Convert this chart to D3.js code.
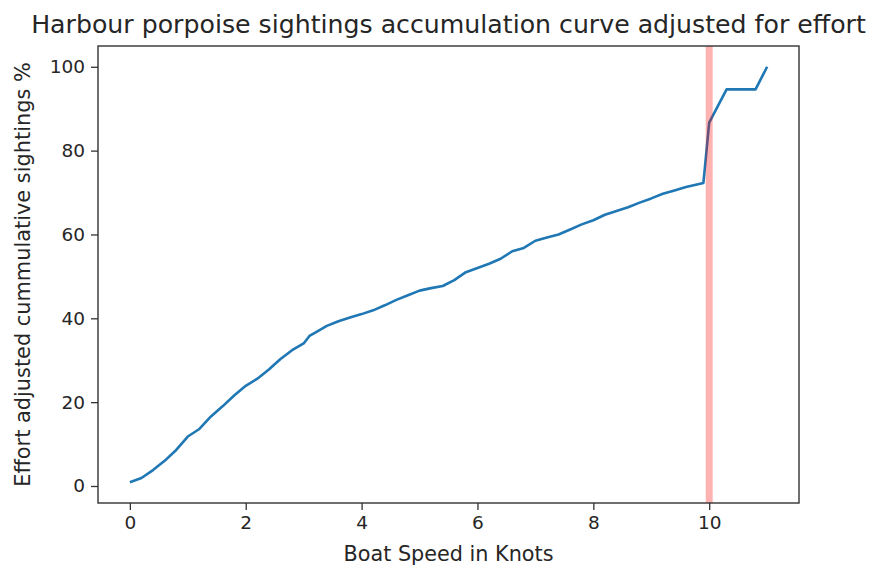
<!DOCTYPE html>
<html>
<head>
<meta charset="utf-8">
<script src="https://cdn.jsdelivr.net/npm/d3@7"></script>
<style>
  body { margin: 0; background: #fff; }
  text { font-family: "DejaVu Sans", sans-serif; fill: #262626; }
</style>
</head>
<body>
<script>
// boat speed (knots) and effort adjusted cumulative sightings (%)
var speeds = [0, 0.2, 0.4, 0.6, 0.8, 1.0, 1.2, 1.4, 1.6, 1.8, 2.0, 2.2, 2.4, 2.6, 2.8, 3.0, 3.1, 3.2, 3.4, 3.6,
  3.8, 4.0, 4.2, 4.4, 4.6, 4.8, 5.0, 5.2, 5.4, 5.6, 5.8, 6.0, 6.2, 6.4, 6.6, 6.8, 7.0, 7.2, 7.4, 7.6,
  7.8, 8.0, 8.2, 8.4, 8.6, 8.8, 9.0, 9.2, 9.4, 9.6, 9.9, 10.0, 10.3, 10.8, 11.0];
var sightings = [0.9, 1.9, 3.8, 6.0, 8.6, 11.8, 13.6, 16.6, 19.0, 21.6, 23.9, 25.6, 27.8, 30.3, 32.4, 34.0, 35.8, 36.6, 38.2, 39.3,
  40.2, 41.0, 41.9, 43.1, 44.4, 45.5, 46.6, 47.2, 47.7, 49.1, 51.0, 52.0, 53.0, 54.2, 56.0, 56.8, 58.5, 59.3, 60.0, 61.2,
  62.4, 63.4, 64.7, 65.6, 66.5, 67.6, 68.6, 69.7, 70.5, 71.3, 72.3, 86.7, 94.6, 94.6, 100];
var xTicks = [0, 2, 4, 6, 8, 10];
var yTicks = [0, 20, 40, 60, 80, 100];
var markSpeed = 10;

var W = 870, H = 567;
var margin = {top: 46, right: 71, bottom: 64, left: 98};
var width = W - margin.left - margin.right,
    height = H - margin.top - margin.bottom;

var svg = d3.select("body").append("svg")
    .attr("width", W)
    .attr("height", H);

var g = svg.append("g")
    .attr("transform", "translate(" + margin.left + "," + margin.top + ")");

// matplotlib style 5% margins
var xmin = d3.min(speeds), xmax = d3.max(speeds);
var ymin = d3.min(sightings), ymax = d3.max(sightings);
var xpad = (xmax - xmin) * 0.05, ypad = (ymax - ymin) * 0.05;

var x = d3.scaleLinear().domain([xmin - xpad, xmax + xpad]).range([0, width]);
var y = d3.scaleLinear().domain([ymin - ypad, ymax + ypad]).range([height, 0]);

var data = speeds.map(function(s, i) { return {x: s, y: sightings[i]}; });

var line = d3.line()
    .x(function(d) { return x(d.x); })
    .y(function(d) { return y(d.y); });

g.append("path")
    .datum(data)
    .attr("fill", "none")
    .attr("stroke", "#1f77b4")
    .attr("stroke-width", 2.6)
    .attr("stroke-linejoin", "round")
    .attr("d", line);

// red marker line at 10 knots
g.append("line")
    .attr("x1", x(markSpeed)).attr("x2", x(markSpeed))
    .attr("y1", 0).attr("y2", height)
    .attr("stroke", "red")
    .attr("stroke-opacity", 0.3)
    .attr("stroke-width", 7);

// axes
var xAxis = g.append("g")
    .attr("transform", "translate(0," + height + ")")
    .call(d3.axisBottom(x).tickValues(xTicks).tickSize(7).tickPadding(6).tickSizeOuter(0));
var yAxis = g.append("g")
    .call(d3.axisLeft(y).tickValues(yTicks).tickSize(7).tickPadding(6).tickSizeOuter(0));

[xAxis, yAxis].forEach(function(a) {
  a.select(".domain").remove();
  a.selectAll("line").attr("stroke", "#333").attr("stroke-width", 1.3);
  a.selectAll("text").style("font-size", "18.5px").attr("fill", "#262626");
});

// frame
g.append("rect")
    .attr("width", width).attr("height", height)
    .attr("fill", "none")
    .attr("stroke", "#333")
    .attr("stroke-width", 1.4);

function fit(t, len) {
  var w = t.node().getComputedTextLength();
  var fs = parseFloat(t.style("font-size"));
  t.style("font-size", (fs * len / w) + "px");
}

var title = svg.append("text")
    .attr("x", margin.left + width / 2)
    .attr("y", 33)
    .attr("text-anchor", "middle")
    .style("font-size", "22px")
    .text("Harbour porpoise sightings accumulation curve adjusted for effort");
fit(title, 835);

var xlab = svg.append("text")
    .attr("x", margin.left + width / 2)
    .attr("y", 561)
    .attr("text-anchor", "middle")
    .style("font-size", "18.5px")
    .text("Boat Speed in Knots");
fit(xlab, 210);

var ylab = svg.append("text")
    .attr("transform", "translate(30," + (margin.top + height / 2) + ") rotate(-90)")
    .attr("text-anchor", "middle")
    .style("font-size", "18.5px")
    .text("Effort adjusted cummulative sightings %");
fit(ylab, 425);
</script>
</body>
</html>
